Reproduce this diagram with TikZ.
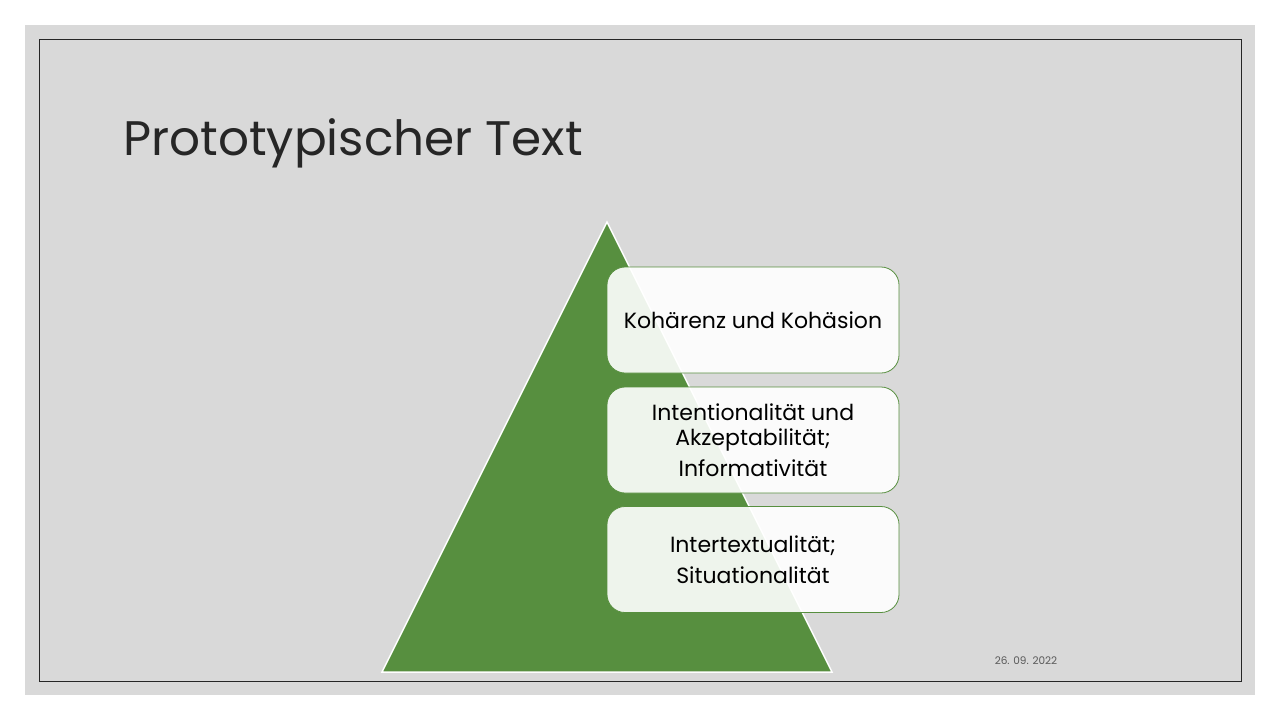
\documentclass[tikz,border=0pt]{standalone}
\usepackage{fontspec}
\setmainfont{Poppins}
\definecolor{grn}{RGB}{87,143,63}
\definecolor{bg}{RGB}{217,217,217}
\definecolor{txt}{RGB}{38,38,38}
\definecolor{datec}{RGB}{89,89,89}
\begin{document}
\begin{tikzpicture}[x=1pt,y=-1pt,
  box/.style={draw=grn, line width=0.8pt, fill=white, fill opacity=0.9, text opacity=1,
    rounded corners=18pt, minimum width=292pt, minimum height=106pt, inner sep=0pt,
    align=center, text=black, font=\fontsize{22}{25.5}\selectfont}]
\useasboundingbox (0,0) rectangle (1280,720);
\fill[white] (0,0) rectangle (1280,720);
\fill[bg] (25,25) rectangle (1255,695);
\draw[line width=1pt, txt] (39,39) rectangle (1241,681);
\node[anchor=base west, font=\fontsize{48.5}{58}\selectfont, text=txt, inner sep=0pt] (title) at (123,155) {Prototypischer Text};
\draw[fill=grn, draw=white, line width=1.5pt] (607,222) -- (832,672) -- (382,672) -- cycle;
\node[box] (b1) at (753,320) {Kohärenz und Kohäsion};
\node[box] (b2) at (753,440) {Intentionalität und\\Akzeptabilität;\\[5pt]Informativität};
\node[box] (b3) at (753,559.5) {Intertextualität;\\[6pt]Situationalität};
\node[anchor=base, font=\fontsize{10.5}{13}\selectfont, text=datec, inner sep=0pt] (date) at (1026,664) {26. 09. 2022};
\end{tikzpicture}
\end{document}
